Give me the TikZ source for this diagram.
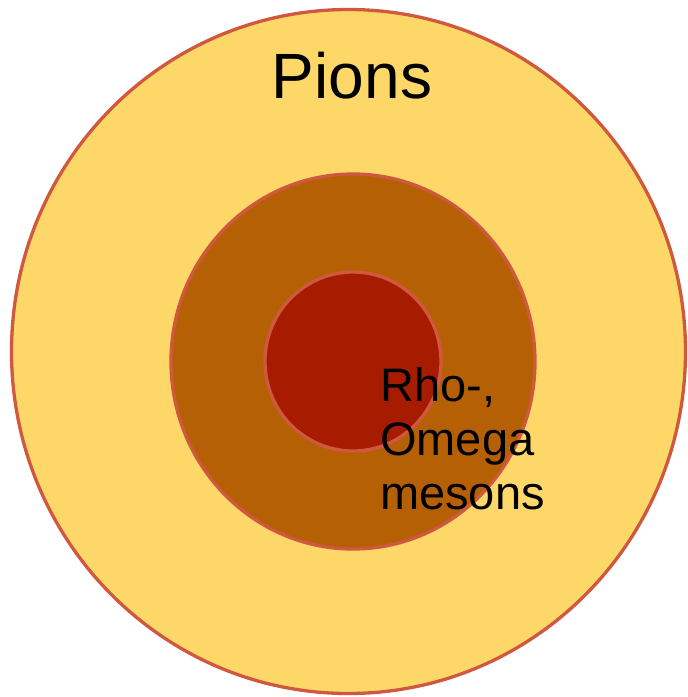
\documentclass[tikz,border=0pt]{standalone}
\usepackage{fontspec}
\setmainfont{Liberation Sans}
\definecolor{ringline}{RGB}{207,88,62}
\definecolor{outerfill}{RGB}{253,216,104}
\definecolor{midfill}{RGB}{181,96,5}
\definecolor{innerfill}{RGB}{167,28,0}
\tikzset{
  ring/.style={draw=ringline, line width=3.3pt},
  bigtext/.style={inner sep=0pt, font=\fontsize{64}{76}\selectfont},
  smalltext/.style={inner sep=0pt, align=left, font=\fontsize{47}{54}\selectfont}
}
\begin{document}
\begin{tikzpicture}[x=1pt,y=-1pt]
\useasboundingbox (0,0) rectangle (688,697);
\path[ring, fill=outerfill] (348.5,351.5) ellipse [x radius=337, y radius=342];
\path[ring, fill=midfill] (353,361.5) ellipse [x radius=182, y radius=187.5];
\path[ring, fill=innerfill] (353,361.5) ellipse [x radius=88, y radius=89.5];
\node[bigtext, anchor=base] (pions) at (352,98) {Pions};
\node[smalltext, anchor=base west] (rho) at (380,509) {Rho-,\\Omega\\mesons};
\end{tikzpicture}
\end{document}
